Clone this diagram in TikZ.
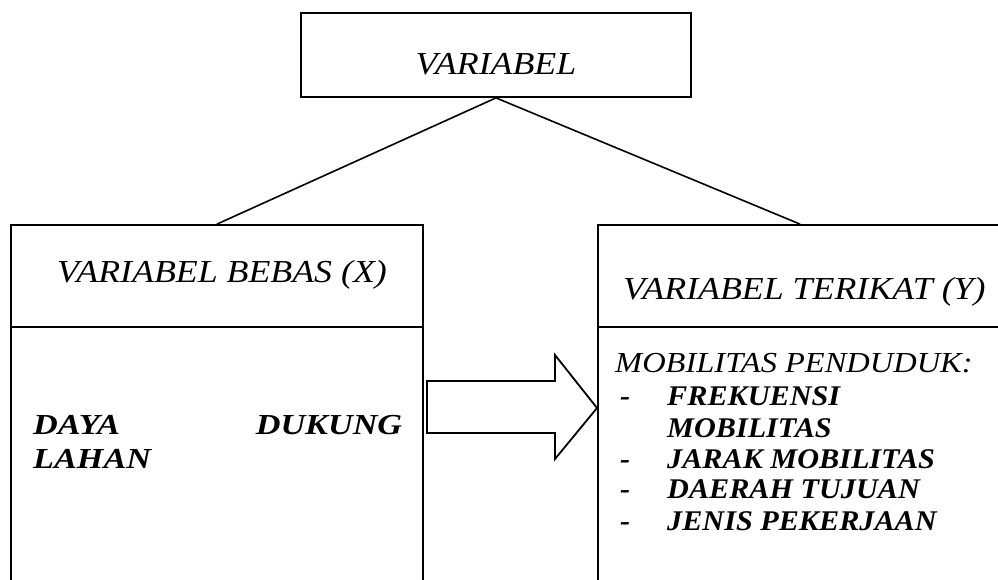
\documentclass[tikz,border=0pt]{standalone}
\usepackage{fontspec}
\setmainfont{Liberation Serif}
\newfontfamily\hfont{Liberation Serif}[FakeStretch=1.12]
\newfontfamily\bfont{Liberation Serif}[FakeStretch=1.06]
\newfontfamily\lfont{Liberation Serif}[FakeStretch=1.18]
\begin{document}
\begin{tikzpicture}[x=1pt,y=-1pt,
  box/.style={draw,line width=1.8pt,inner sep=0pt,minimum width=#1},
  conn/.style={line width=1.6pt},
  txt/.style={inner sep=0pt,font=\hfont\fontsize{32}{36}\selectfont\itshape},
  mtxt/.style={inner sep=0pt,font=\hfont\fontsize{29}{32}\selectfont\itshape},
  btxt/.style={inner sep=0pt,font=\bfont\fontsize{28.5}{32}\selectfont\bfseries\itshape},
  ltxt/.style={inner sep=0pt,font=\lfont\fontsize{29}{32}\selectfont\bfseries\itshape}]
\useasboundingbox (0,0) rectangle (998,580);
% top box
\node[box=390pt,minimum height=84pt] (top) at (496,55) {};
\node[txt,anchor=base] (toptext) at (496,75) {VARIABEL};
% left box
\node[box=412pt,minimum height=102pt] (lhead) at (217,276) {};
\node[box=412pt,minimum height=270pt] (lbody) at (217,462) {};
\node[txt,anchor=base] (ltitle) at (222,282) {VARIABEL BEBAS (X)};
\node[ltxt,anchor=base west] (l1) at (33,434) {\makebox[369pt][s]{DAYA\hfill DUKUNG}};
\node[ltxt,anchor=base west] (l2) at (33,468) {LAHAN};
% right box
\node[box=404pt,minimum height=102pt] (rhead) at (800,276) {};
\node[box=404pt,minimum height=270pt] (rbody) at (800,462) {};
\node[txt,anchor=base west] (rtitle) at (623,299) {VARIABEL TERIKAT (Y)};
\node[mtxt,anchor=base west] (r0) at (615,372) {MOBILITAS PENDUDUK:};
\node[btxt,anchor=base west] (d1) at (620,405) {-};
\node[btxt,anchor=base west] (r1) at (667,405) {FREKUENSI};
\node[btxt,anchor=base west] (r2) at (667,437) {MOBILITAS};
\node[btxt,anchor=base west] (d3) at (620,468) {-};
\node[btxt,anchor=base west] (r3) at (667,468) {JARAK MOBILITAS};
\node[btxt,anchor=base west] (d4) at (620,498) {-};
\node[btxt,anchor=base west] (r4) at (667,498) {DAERAH TUJUAN};
\node[btxt,anchor=base west] (d5) at (620,530) {-};
\node[btxt,anchor=base west] (r5) at (667,530) {JENIS PEKERJAAN};
% connectors
\draw[conn] (top.south) -- (lhead.north);
\draw[conn] (top.south) -- (rhead.north);
% block arrow
\draw[line width=1.8pt,line join=miter]
  (427,381) -- (555,381) -- (555,355) -- (597,408) -- (555,459) -- (555,433) -- (427,433) -- cycle;
\end{tikzpicture}
\end{document}
